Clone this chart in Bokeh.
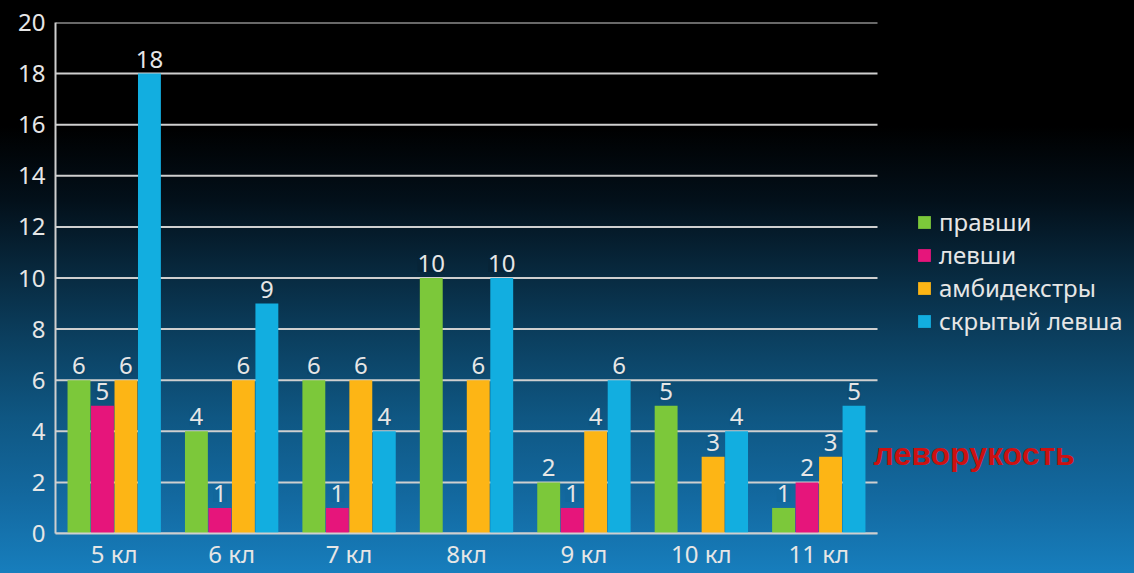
import numpy as np
from bokeh.plotting import figure
from bokeh.models import (ColumnDataSource, Range1d, Legend, LegendItem, Label,
                          GlobalInlineStyleSheet, FixedTicker)
from bokeh.transform import dodge
from bokeh.embed import file_html
from bokeh.resources import INLINE

# ---------------- data ----------------
categories = ["5 кл", "6 кл", "7 кл", "8кл", "9 кл", "10 кл", "11 кл"]
series_names = ["правши", "левши", "амбидекстры", "скрытый левша"]
pravshi = [6, 4, 6, 10, 2, 5, 1]
levshi = [5, 1, 1, 0, 1, 0, 2]
ambidekstry = [6, 6, 6, 6, 4, 3, 3]
skrytyi_levsha = [18, 9, 4, 10, 6, 4, 5]
y_ticks = [0, 2, 4, 6, 8, 10, 12, 14, 16, 18, 20]
side_note = "леворукость"

# ---------------- style ----------------
colors = ["#7cc83a", "#e6157b", "#fdb515", "#12aee0"]
offsets = [-0.3, -0.1, 0.1, 0.3]
bar_w = 0.195
txt = "#e6e6e6"
grid_col = "#cfcfcf"
font = "Noto Sans"
fs = "24px"
H, TOP, FRAME_H = 573, 22, 511

stops = [(0.00, "#000000"), (0.22, "#000000"), (0.35, "#03101a"), (0.46, "#07263a"),
         (0.59, "#0b3f5f"), (0.73, "#0f5783"), (0.87, "#1369a0"), (1.00, "#177ebd")]
css = ("html, body { margin: 0; padding: 0; overflow: hidden; }\n"
       "html { background: linear-gradient(to bottom, "
       + ", ".join(f"{c} {int(f*100)}%" for f, c in stops)
       + "); min-height: 100%; }\nbody { background: transparent; }")


def bg_at(frac):
    """colour of the page gradient at a vertical fraction of the page"""
    for (f0, c0), (f1, c1) in zip(stops[:-1], stops[1:]):
        if f0 <= frac <= f1:
            t = 0 if f1 == f0 else (frac - f0) / (f1 - f0)
            a = [int(c0[i:i + 2], 16) for i in (1, 3, 5)]
            b = [int(c1[i:i + 2], 16) for i in (1, 3, 5)]
            return "#" + "".join(f"{round(x + (y - x) * t):02x}" for x, y in zip(a, b))
    return stops[-1][1]


n = len(categories)
centers = list(np.arange(n) + 0.5)          # category slot centres on a numeric scale
x_end = n * (1134 - 55) / 822.0             # frame continues past the bars for legend/note

p = figure(x_range=Range1d(0, x_end), y_range=Range1d(0, 20),
           frame_width=1079, frame_height=FRAME_H, output_backend="svg", toolbar_location=None,
           min_border_left=55, min_border_right=0, min_border_top=TOP, min_border_bottom=0,
           stylesheets=[GlobalInlineStyleSheet(css=css)])
p.background_fill_alpha = 0
p.border_fill_alpha = 0
p.outline_line_color = None

# horizontal grid lines limited to the category area
p.xgrid.grid_line_color = None
p.ygrid.grid_line_color = None
p.segment(x0=0, x1=n, y0=y_ticks, y1=y_ticks, line_color=grid_col, line_width=2,
          level="underlay")

data = {"x": centers}
cols = ["s0", "s1", "s2", "s3"]
vals = [pravshi, levshi, ambidekstry, skrytyi_levsha]
for c, v in zip(cols, vals):
    data[c] = v
    data[c + "_t"] = [str(x) if x else "" for x in v]
    # label box colour = page background behind the label
    data[c + "_bg"] = [bg_at((TOP + FRAME_H * (1 - x / 20.0) - 20) / H) for x in v]
src = ColumnDataSource(data)

items = []
for c, col, off, name in zip(cols, colors, offsets, series_names):
    r = p.vbar(x=dodge("x", off), top=c, width=bar_w, source=src,
               fill_color=col, line_color=None)
    p.text(x=dodge("x", off), y=c, text=c + "_t", source=src,
           text_align="center", text_baseline="bottom", y_offset=-6,
           text_color=txt, text_font={"value": font}, text_font_size=fs,
           background_fill_color=c + "_bg")
    items.append(LegendItem(label=name, renderers=[r]))

# axes
p.yaxis.ticker = FixedTicker(ticks=y_ticks)
p.xaxis.ticker = FixedTicker(ticks=centers)
p.xaxis.major_label_overrides = {float(c): lab for c, lab in zip(centers, categories)}
p.xaxis.bounds = (0, n)
for ax in (p.xaxis[0], p.yaxis[0]):
    ax.axis_line_color = grid_col
    ax.axis_line_width = 2
    ax.major_tick_line_color = None
    ax.minor_tick_line_color = None
    ax.major_tick_out = 0
    ax.major_tick_in = 0
    ax.minor_tick_out = 0
    ax.minor_tick_in = 0
    ax.major_label_text_color = txt
    ax.major_label_text_font = font
    ax.major_label_text_font_size = fs
p.yaxis.major_label_standoff = 10
p.xaxis.major_label_standoff = 3

legend = Legend(items=items, location=(861, 196), background_fill_alpha=0,
                border_line_color=None, label_text_color=txt, label_text_font=font,
                label_text_font_size=fs, glyph_width=16, glyph_height=16,
                label_height=25, spacing=0, padding=0, margin=0, label_standoff=7)
p.add_layout(legend)

p.add_layout(Label(x=6.966, y=3.13, text=side_note, text_color="#cc1111",
                   text_font="Liberation Sans", text_font_style="bold",
                   text_font_size="32px", text_baseline="middle", text_align="left"))

open("out.html", "w").write(file_html(p, INLINE))
